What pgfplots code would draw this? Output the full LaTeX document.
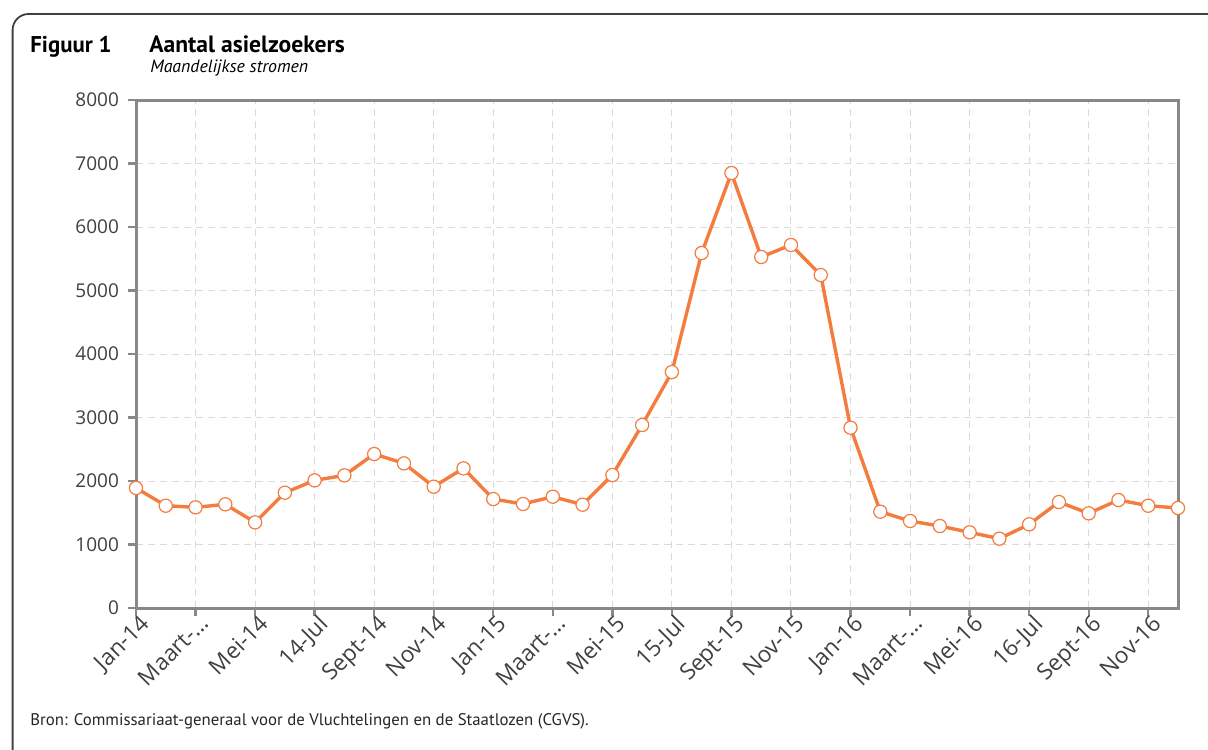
\documentclass[border=0pt]{standalone}
\usepackage{pgfplots}
\pgfplotsset{compat=1.18}
\usepackage{fontspec}
\setmainfont{Open Sans}
\newfontfamily\titlefont{PT Sans}
\definecolor{lineorange}{RGB}{243,124,62}
\definecolor{axgray}{RGB}{136,136,136}
\definecolor{gridgray}{RGB}{218,218,218}
\definecolor{txt}{RGB}{64,64,64}
\begin{document}
\begin{tikzpicture}
\useasboundingbox (0pt,0pt) rectangle (604pt,-374.5pt);
\begin{scope}
\clip (0pt,0pt) rectangle (604pt,-374.5pt);
\draw[line width=0.9pt, color=black!75, rounded corners=8pt] (6.3pt,-7pt) rectangle (620pt,-400pt);
\end{scope}
\node[anchor=base west, inner sep=0pt, font=\titlefont\bfseries\fontsize{11.4}{13}\selectfont] at (15pt,-26.5pt) {Figuur 1};
\node[anchor=base west, inner sep=0pt, font=\titlefont\bfseries\fontsize{11.8}{13}\selectfont] at (74.5pt,-26.5pt) {Aantal asielzoekers};
\node[anchor=base west, inner sep=0pt, font=\titlefont\itshape\fontsize{8.9}{10}\selectfont] at (75pt,-36.3pt) {Maandelijkse stromen};
\node[anchor=base west, inner sep=0pt, font=\titlefont\fontsize{8.4}{10}\selectfont, color=black!85] at (15pt,-362.5pt) {Bron: Commissariaat-generaal voor de Vluchtelingen en de Staatlozen (CGVS).};
\begin{axis}[
  at={(68pt,-304pt)}, anchor=south west,
  scale only axis, width=521pt, height=254pt,
  xmin=0, xmax=35, ymin=0, ymax=8000,
  clip=false,
  axis line style={draw=axgray, line width=1.5pt},
  xtick={0,2,...,34},
  xticklabels={Jan-14,Maart-…,Mei-14,14-Jul,Sept-14,Nov-14,Jan-15,Maart-…,Mei-15,15-Jul,Sept-15,Nov-15,Jan-16,Maart-…,Mei-16,16-Jul,Sept-16,Nov-16},
  ytick={0,1000,...,8000},
  xtick pos=bottom, ytick pos=left,
  tick align=outside,
  major tick length=4pt,
  tick style={draw=axgray, line width=1.2pt},
  grid=major,
  grid style={draw=gridgray, line width=0.5pt, dash pattern=on 3.5pt off 2.5pt},
  /pgf/number format/assume math mode=true,
  /pgf/number format/1000 sep={},
  ticklabel style={color=txt},
  yticklabel style={font=\fontsize{9.5}{11}\selectfont, xshift=-1pt},
  xticklabel style={font=\fontsize{11.3}{13}\selectfont, rotate=45, anchor=north east, inner sep=1pt, xshift=3pt, yshift=1pt},
]
\addplot[color=lineorange, line width=1.7pt, mark=*, mark size=3.3pt,
  mark options={fill=white, draw=lineorange, line width=0.6pt}]
coordinates {
(0,1890) (1,1611) (2,1585) (3,1633) (4,1349) (5,1816) (6,2010) (7,2089)
(8,2425) (9,2278) (10,1911) (11,2199) (12,1716) (13,1638) (14,1753) (15,1627)
(16,2094) (17,2882) (18,3716) (19,5590) (20,6850) (21,5528) (22,5717) (23,5244)
(24,2840) (25,1517) (26,1370) (27,1291) (28,1192) (29,1092) (30,1318) (31,1669)
(32,1491) (33,1701) (34,1611) (35,1575)
};
\end{axis}
\end{tikzpicture}
\end{document}
